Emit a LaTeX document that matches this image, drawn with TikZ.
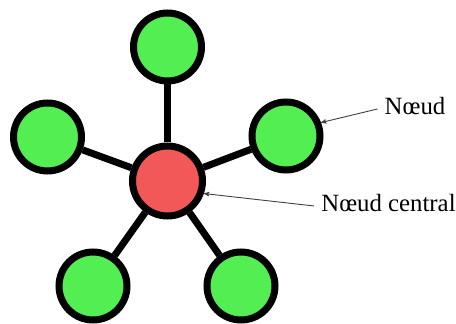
\documentclass[tikz,border=0pt]{standalone}
\usepackage{fontspec}
\setmainfont{Liberation Serif}
\usetikzlibrary{arrows, positioning}
\definecolor{leafgreen}{RGB}{82,238,82}
\definecolor{hubred}{RGB}{242,88,88}
\tikzset{x=1pt,y=1pt,
    leaf/.style={circle,draw,line width=7pt,fill=leafgreen,minimum size=68pt,inner sep=0pt},
    hub/.style={circle,draw,line width=7pt,fill=hubred,minimum size=70pt,inner sep=0pt},
    link/.style={line width=7pt},
    pointer/.style={->,>=stealth',draw=black!75,line width=0.9pt,shorten >=0pt},
    textnode/.style={font=\fontsize{24.8}{30}\selectfont,inner sep=0pt}}

\begin{document}
\begin{tikzpicture}
\useasboundingbox (0,0) rectangle (456,324);
\node[hub]   (c)  at (167.5,143) {};
\node[leaf]  (n1) at (167.5,277) {};
\node[leaf]  (n2) at (47.5,187)  {};
\node[leaf]  (n3) at (286,188)   {};
\node[leaf]  (n4) at (93,38)     {};
\node[leaf]  (n5) at (241,38)    {};
\foreach \n in {n1,n2,n3,n4,n5}
	\draw[link] (c) -- (\n);
\node[textnode] (lnode) at (415,218) {Nœud};
\node[textnode] (lcentral) at (388.5,121) {Nœud central};
\draw[pointer] ([xshift=-7pt,yshift=-3pt]lnode.west) -- (n3.21);
\draw[pointer] ([xshift=-7pt,yshift=-3pt]lcentral.west) -- (c.-19);
\end{tikzpicture}
\end{document}
